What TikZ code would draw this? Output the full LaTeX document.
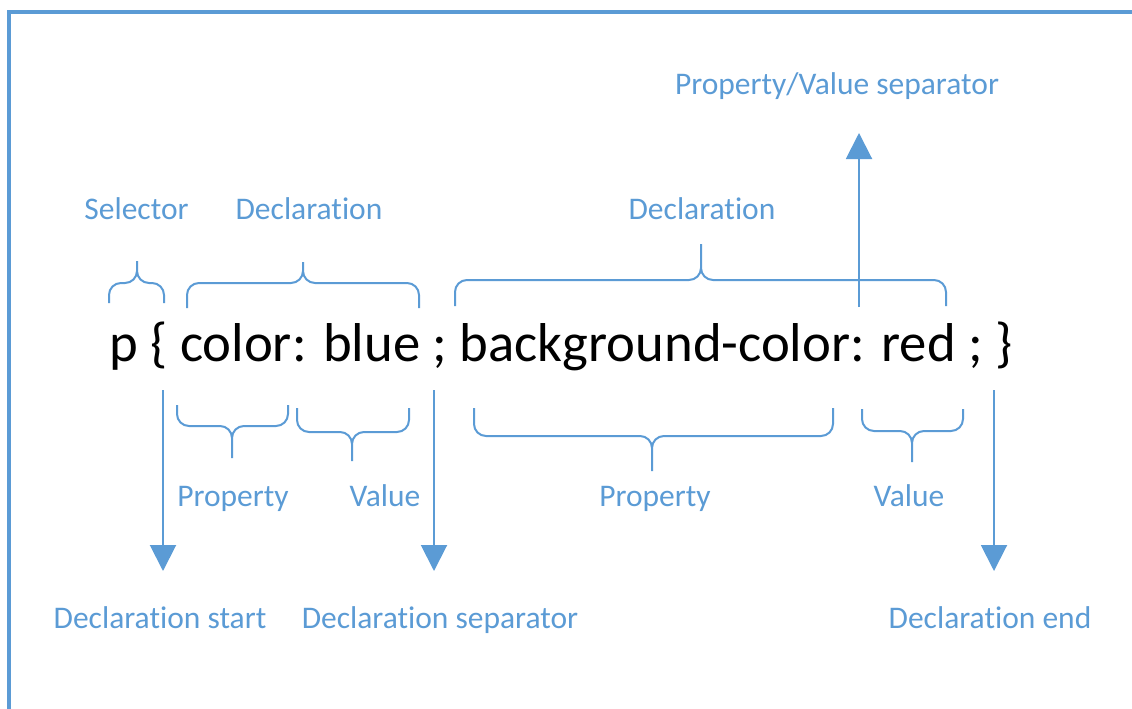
\documentclass[tikz,border=0pt]{standalone}
\usepackage{fontspec}
\setmainfont{Carlito}[Ligatures=NoCommon]
\usetikzlibrary{arrows.meta}
\definecolor{cssblue}{HTML}{5B9BD5}
\newcommand{\codefont}{\fontsize{54.7}{60}\selectfont}

\tikzset{
    lbl/.style = {text = cssblue,
                  anchor = base,
                  inner sep = 0pt,
                  font = \fontsize{31.5}{36}\selectfont},
    bracestroke/.style = {draw = cssblue,
                          line width = 2pt,
                          rounded corners = 12pt},
    pointer/.style = {color = cssblue,
                      line width = 2pt,
                      -{Triangle[width=26pt,length=26pt]}}
}

\begin{document}
\begin{tikzpicture}[x=1pt, y=-1pt]

    \useasboundingbox (0,0) rectangle (1132,709);

    % frame
    \draw[cssblue, line width = 4pt] (9,709) -- (9,12.5) -- (1132,12.5);

    \node[anchor = base,
          inner sep = 0pt,
          font = \codefont] (rule) at (561,361)
          {p \{ color: blue ; background-color: red ; \}};

    % labels above
    \node[lbl] (pvsep) at (837,94) {Property/Value separator};
    \node[lbl] (selector) at (136.5,219) {Selector};
    \node[lbl] (decl1) at (309,219) {Declaration};
    \node[lbl] (decl2) at (702,219) {Declaration};

    % labels below
    \node[lbl] (prop1) at (233,506) {Property};
    \node[lbl] (val1) at (385,506) {Value};
    \node[lbl] (prop2) at (655,506) {Property};
    \node[lbl] (val2) at (909,506) {Value};
    \node[lbl] (dstart) at (160,628) {Declaration start};
    \node[lbl] (dsep) at (440,628) {Declaration separator};
    \node[lbl] (dend) at (990,628) {Declaration end};

    % braces over the rule
    \draw[bracestroke] (109,303) |- (137,283) -- (137,261)
                       (164,303) |- (137,283) -- (137,261);
    \draw[bracestroke] (187,308) |- (303,283) -- (303,262)
                       (419,308) |- (303,283) -- (303,262);
    \draw[bracestroke] (455,306) |- (701,280) -- (701,244)
                       (946,306) |- (701,280) -- (701,244);

    % braces under the rule
    \draw[bracestroke] (177,405) |- (232,426) -- (232,458)
                       (288,405) |- (232,426) -- (232,458);
    \draw[bracestroke] (297,408) |- (352,432) -- (352,461)
                       (409,408) |- (352,432) -- (352,461);
    \draw[bracestroke] (474,408) |- (652,436) -- (652,471)
                       (833,408) |- (652,436) -- (652,471);
    \draw[bracestroke] (862,409) |- (912,431) -- (912,462)
                       (963,409) |- (912,431) -- (912,462);

    % pointers
    \coordinate (startfrom) at (163,390);
    \coordinate (startto) at (163,571);
    \coordinate (sepfrom) at (434,390);
    \coordinate (septo) at (434,571);
    \coordinate (endfrom) at (994,390);
    \coordinate (endto) at (994,571);
    \coordinate (pvfrom) at (859,307);
    \coordinate (pvto) at (859,133);

    \draw[pointer] (startfrom) -- (startto);
    \draw[pointer] (sepfrom) -- (septo);
    \draw[pointer] (endfrom) -- (endto);
    \draw[pointer] (pvfrom) -- (pvto);

\end{tikzpicture}
\end{document}
